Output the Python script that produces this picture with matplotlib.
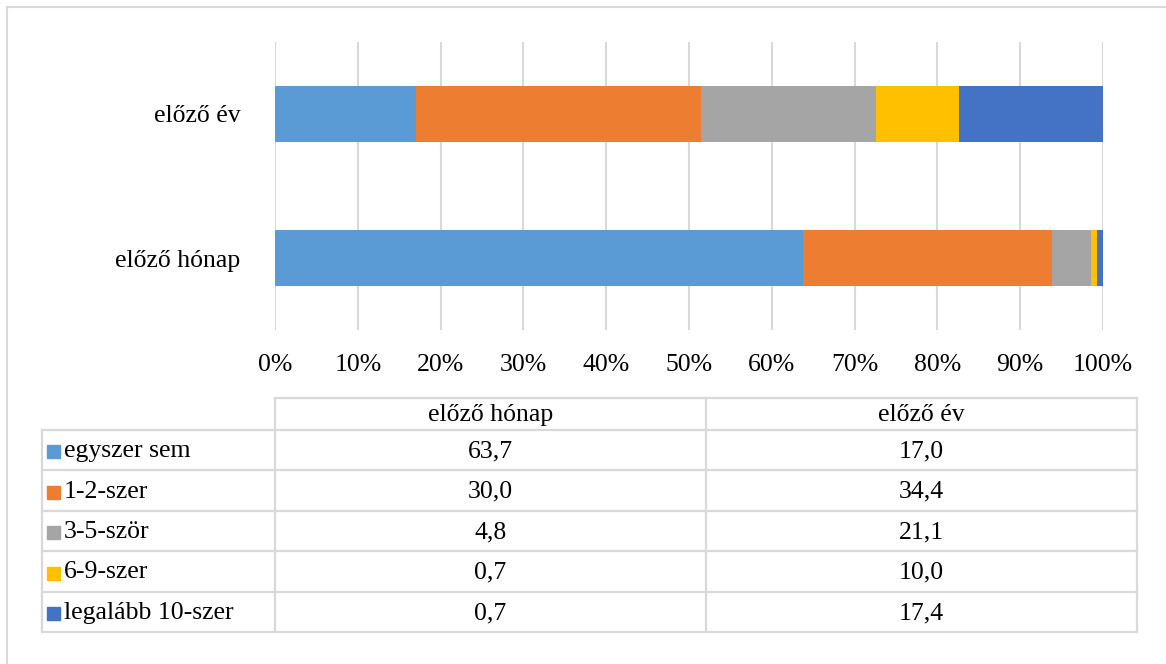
import matplotlib
matplotlib.use("Agg")
import matplotlib.pyplot as plt
from matplotlib.lines import Line2D
from matplotlib.patches import Rectangle

plt.rcParams["font.family"] = ["Liberation Serif", "DejaVu Serif"]

# data
periods = ["előző hónap", "előző év"]
categories = ["egyszer sem", "1-2-szer", "3-5-ször", "6-9-szer", "legalább 10-szer"]
month_vals = [63.7, 30.0, 4.8, 0.7, 0.7]
year_vals = [17.0, 34.4, 21.1, 10.0, 17.4]
colors = ["#5B9BD5", "#ED7D31", "#A5A5A5", "#FFC000", "#4472C4"]
xticks = [0, 10, 20, 30, 40, 50, 60, 70, 80, 90, 100]

W, H = 1166, 664
fig = plt.figure(figsize=(W / 100, H / 100), dpi=100)
GRID = "#D9D9D9"
FS = 18.5


def fx(px):
    return px / W


def fy(py):
    return 1 - py / H


# outer frame (top and left visible)
fig.add_artist(Line2D([fx(7), 1], [fy(7), fy(7)], color="#D9D9D9", lw=1.5))
fig.add_artist(Line2D([fx(7), fx(7)], [fy(7), 0], color="#D9D9D9", lw=1.5))

ax = fig.add_axes([fx(275), fy(330), fx(1103) - fx(275), fy(42) - fy(330)])
series = list(zip(month_vals, year_vals))
tot = [sum(month_vals), sum(year_vals)]
left = [0.0, 0.0]
for i, cat in enumerate(categories):
    vals = series[i]
    pct = [vals[0] / tot[0] * 100, vals[1] / tot[1] * 100]
    ax.barh([0, 1], pct, left=left, height=0.395, color=colors[i], zorder=3)
    left = [left[0] + pct[0], left[1] + pct[1]]

ax.set_xlim(0, 100)
ax.set_ylim(-0.5, 1.5)
ax.set_yticks([0, 1])
ax.set_yticklabels(periods, fontsize=FS)
ax.set_xticks(xticks)
ax.set_xticklabels(["%d%%" % t for t in xticks], fontsize=FS)
ax.tick_params(axis="both", length=0)
ax.tick_params(axis="x", pad=17)
ax.tick_params(axis="y", pad=25)
ax.grid(axis="x", color=GRID, lw=1.5, zorder=0)
for s in ax.spines.values():
    s.set_visible(False)

# data table
x0, x1, x2, x3 = 42, 275, 706, 1137
rows_y = [398, 430, 470, 511, 551, 592, 632]
lc = "#D9D9D9"
lw = 1.6
fig.add_artist(Line2D([fx(x1), fx(x3)], [fy(rows_y[0])] * 2, color=lc, lw=lw))
for y in rows_y[1:]:
    fig.add_artist(Line2D([fx(x0), fx(x3)], [fy(y)] * 2, color=lc, lw=lw))
fig.add_artist(Line2D([fx(x0)] * 2, [fy(rows_y[1]), fy(rows_y[-1])], color=lc, lw=lw))
for x in (x1, x2, x3):
    fig.add_artist(Line2D([fx(x)] * 2, [fy(rows_y[0]), fy(rows_y[-1])], color=lc, lw=lw))

cy = (rows_y[0] + rows_y[1]) / 2 + 1
fig.text(fx((x1 + x2) / 2), fy(cy), periods[0], ha="center", va="center", fontsize=FS)
fig.text(fx((x2 + x3) / 2), fy(cy), periods[1], ha="center", va="center", fontsize=FS)

for i, cat in enumerate(categories):
    cy = (rows_y[i + 1] + rows_y[i + 2]) / 2 + 1
    fig.add_artist(Rectangle((fx(47), fy(cy + 7)), fx(13), 13 / H,
                             color=colors[i], transform=fig.transFigure))
    fig.text(fx(64), fy(cy), cat, ha="left", va="center", fontsize=FS)
    fig.text(fx((x1 + x2) / 2), fy(cy), ("%.1f" % month_vals[i]).replace(".", ","),
             ha="center", va="center", fontsize=FS)
    fig.text(fx((x2 + x3) / 2), fy(cy), ("%.1f" % year_vals[i]).replace(".", ","),
             ha="center", va="center", fontsize=FS)

fig.savefig("out.png", dpi=100, facecolor="white")
